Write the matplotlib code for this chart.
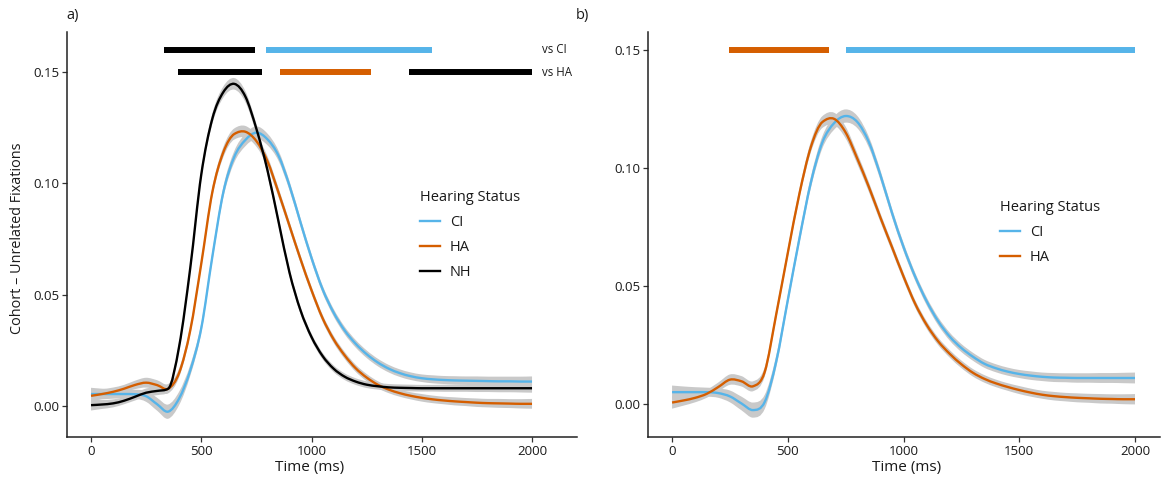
import matplotlib
matplotlib.use("Agg")
import matplotlib.pyplot as plt
from matplotlib.path import Path
from matplotlib.patches import PathPatch
from matplotlib.lines import Line2D
import numpy as np

# ---------------- data ----------------
time_ms = [0, 50, 100, 150, 200, 250, 300, 350, 400, 450,
           500, 550, 600, 650, 700, 750, 800, 850, 900, 950,
           1000, 1050, 1100, 1150, 1200, 1250, 1300, 1350, 1400, 1450,
           1500, 1550, 1600, 1650, 1700, 1750, 1800, 1850, 1900, 1950, 2000]

# panel a
a_ci = [0.0054, 0.0054, 0.0054, 0.0054, 0.0053, 0.0044, 0.0008, -0.0025, 0.0035, 0.0160,
        0.0350, 0.0670, 0.0960, 0.1120, 0.1195, 0.1228, 0.1198, 0.1125, 0.0990, 0.0825,
        0.0665, 0.0525, 0.0420, 0.0340, 0.0280, 0.0233, 0.0196, 0.0168, 0.0148, 0.0134,
        0.0125, 0.0120, 0.0117, 0.0115, 0.0114, 0.0113, 0.0112, 0.0111, 0.0111, 0.0110, 0.0110]
a_ha = [0.0046, 0.0054, 0.0064, 0.0078, 0.0095, 0.0105, 0.0094, 0.0078, 0.0150, 0.0340,
        0.0640, 0.0960, 0.1140, 0.1222, 0.1232, 0.1190, 0.1100, 0.0960, 0.0810, 0.0660,
        0.0520, 0.0395, 0.0300, 0.0228, 0.0170, 0.0128, 0.0096, 0.0074, 0.0058, 0.0046,
        0.0037, 0.0030, 0.0025, 0.0021, 0.0018, 0.0015, 0.0013, 0.0012, 0.0011, 0.0010, 0.0010]
a_nh = [0.0004, 0.0007, 0.0012, 0.0024, 0.0042, 0.0060, 0.0068, 0.0078, 0.0270, 0.0620,
        0.1040, 0.1290, 0.1410, 0.1447, 0.1390, 0.1245, 0.1060, 0.0830, 0.0600, 0.0430,
        0.0310, 0.0225, 0.0168, 0.0132, 0.0110, 0.0096, 0.0089, 0.0084, 0.0082, 0.0081,
        0.0080, 0.0080, 0.0080, 0.0080, 0.0080, 0.0080, 0.0080, 0.0080, 0.0080, 0.0080, 0.0080]
a_ci_se = [0.0028, 0.0024, 0.0021, 0.0019, 0.0020, 0.0025, 0.0029, 0.0032, 0.0030, 0.0025,
           0.0022, 0.0022, 0.0024, 0.0026, 0.0028, 0.0028, 0.0026, 0.0023, 0.0021, 0.0019,
           0.0018, 0.0017, 0.0017, 0.0017, 0.0017, 0.0017, 0.0017, 0.0017, 0.0017, 0.0017,
           0.0017, 0.0018, 0.0018, 0.0019, 0.0019, 0.0020, 0.0020, 0.0021, 0.0021, 0.0022, 0.0023]
a_ha_se = [0.0026, 0.0022, 0.0019, 0.0017, 0.0019, 0.0022, 0.0022, 0.0021, 0.0020, 0.0020,
           0.0020, 0.0021, 0.0023, 0.0025, 0.0026, 0.0025, 0.0023, 0.0021, 0.0019, 0.0018,
           0.0017, 0.0016, 0.0016, 0.0016, 0.0016, 0.0016, 0.0016, 0.0016, 0.0016, 0.0016,
           0.0017, 0.0017, 0.0017, 0.0018, 0.0018, 0.0019, 0.0019, 0.0020, 0.0020, 0.0021, 0.0022]
a_nh_se = [0.0024, 0.0020, 0.0018, 0.0016, 0.0017, 0.0019, 0.0019, 0.0018, 0.0018, 0.0019,
           0.0021, 0.0023, 0.0025, 0.0026, 0.0025, 0.0023, 0.0021, 0.0019, 0.0017, 0.0016,
           0.0015, 0.0015, 0.0015, 0.0015, 0.0015, 0.0015, 0.0015, 0.0015, 0.0015, 0.0015,
           0.0015, 0.0015, 0.0016, 0.0016, 0.0016, 0.0017, 0.0017, 0.0018, 0.0018, 0.0019, 0.0020]

# panel b
b_ci = [0.0050, 0.0050, 0.0050, 0.0050, 0.0046, 0.0032, 0.0002, -0.0026, 0.0008, 0.0180,
        0.0440, 0.0700, 0.0940, 0.1110, 0.1190, 0.1220, 0.1195, 0.1110, 0.0970, 0.0810,
        0.0665, 0.0540, 0.0435, 0.0350, 0.0285, 0.0237, 0.0200, 0.0170, 0.0151, 0.0137,
        0.0127, 0.0120, 0.0115, 0.0112, 0.0111, 0.0110, 0.0110, 0.0110, 0.0110, 0.0110, 0.0110]
b_ha = [0.0006, 0.0015, 0.0026, 0.0043, 0.0072, 0.0103, 0.0096, 0.0075, 0.0135, 0.0380,
        0.0640, 0.0890, 0.1090, 0.1195, 0.1208, 0.1150, 0.1040, 0.0920, 0.0790, 0.0665,
        0.0540, 0.0425, 0.0335, 0.0265, 0.0212, 0.0168, 0.0132, 0.0106, 0.0087, 0.0072,
        0.0059, 0.0048, 0.0039, 0.0033, 0.0029, 0.0026, 0.0024, 0.0022, 0.0021, 0.0020, 0.0020]
b_ci_se = a_ci_se
b_ha_se = a_ha_se

# significance bars (ms)
a_row_labels = ["vs CI", "vs HA"]
a_row_y = [0.160, 0.150]
a_vsci_start = [330, 795]
a_vsci_end = [745, 1545]
a_vsci_group = ["NH", "CI"]
a_vsha_start = [393, 858, 1443]
a_vsha_end = [775, 1270, 2000]
a_vsha_group = ["NH", "HA", "NH"]
b_bar_y = 0.150
b_bar_start = [248, 750]
b_bar_end = [678, 2000]
b_bar_group = ["HA", "CI"]

x_ticks = [0, 500, 1000, 1500, 2000]
y_ticks = [0.00, 0.05, 0.10, 0.15]
y_tick_labels = ["0.00", "0.05", "0.10", "0.15"]

colors = {"CI": "#56B4E9", "HA": "#D55E00", "NH": "#000000"}
ribbon_col = "#c9c9c9"

# ---------------- figure ----------------
plt.rcParams['font.family'] = ['Open Sans', 'DejaVu Sans']
W, H = 1168, 483
fig = plt.figure(figsize=(W / 100, H / 100), dpi=100)


def axes_px(l, t, r, b):
    return fig.add_axes([l / W, 1 - b / H, (r - l) / W, (b - t) / H])


axA = axes_px(67, 32, 577, 437)
axB = axes_px(648, 32, 1160, 437)


def style(ax, xlim, ylim):
    ax.set_xlim(xlim)
    ax.set_ylim(ylim)
    for s in ['top', 'right']:
        ax.spines[s].set_visible(False)
    for s in ['left', 'bottom']:
        ax.spines[s].set_linewidth(1.1)
        ax.spines[s].set_color('#222222')
    ax.tick_params(direction='out', length=3.5, width=0.9, colors='#333333',
                   labelsize=9.5, labelcolor='#1a1a1a', pad=2)
    ax.set_xticks(x_ticks)
    ax.set_xticklabels([str(v) for v in x_ticks])
    ax.set_yticks(y_ticks)
    ax.set_yticklabels(y_tick_labels)


def smooth_slopes(x, y):
    h = np.diff(x)
    d = np.diff(y) / h
    m = np.empty_like(y)
    m[1:-1] = (y[2:] - y[:-2]) / (x[2:] - x[:-2])
    m[0] = d[0]
    m[-1] = d[-1]
    for k in range(1, len(y) - 1):
        if d[k - 1] * d[k] > 0:
            lim = 3 * min(abs(d[k - 1]), abs(d[k]))
            if abs(m[k]) > lim:
                m[k] = np.sign(m[k]) * lim
        elif d[k - 1] == 0 or d[k] == 0:
            m[k] = 0.0
    return m


def bezier_path(x, y):
    """Smooth curve through the data points (cubic Bezier segments)."""
    x = np.asarray(x, float)
    y = np.asarray(y, float)
    m = smooth_slopes(x, y)
    verts = [(x[0], y[0])]
    codes = [Path.MOVETO]
    for i in range(len(x) - 1):
        h = x[i + 1] - x[i]
        verts += [(x[i] + h / 3, y[i] + m[i] * h / 3),
                  (x[i + 1] - h / 3, y[i + 1] - m[i + 1] * h / 3),
                  (x[i + 1], y[i + 1])]
        codes += [Path.CURVE4] * 3
    return verts, codes


t = np.array(time_ms, float)


def draw_curves(ax, series):
    for name, y, se in series:
        y = np.array(y)
        se = np.array(se)
        v1, c1 = bezier_path(t, y + se)
        v2, c2 = bezier_path(t[::-1], (y - se)[::-1])
        c2[0] = Path.LINETO
        verts = v1 + v2 + [v1[0]]
        codes = c1 + c2 + [Path.CLOSEPOLY]
        ax.add_patch(PathPatch(Path(verts, codes), facecolor=ribbon_col,
                               edgecolor='none', lw=0, zorder=1))
    handles = []
    for name, y, se in series:
        v, c = bezier_path(t, y)
        ax.add_patch(PathPatch(Path(v, c), facecolor='none', edgecolor=colors[name],
                               lw=1.7, zorder=3, capstyle='butt', joinstyle='round'))
        handles.append(Line2D([], [], color=colors[name], lw=1.7, label=name))
    return handles


hA = draw_curves(axA, [("CI", a_ci, a_ci_se), ("HA", a_ha, a_ha_se), ("NH", a_nh, a_nh_se)])
hB = draw_curves(axB, [("CI", b_ci, b_ci_se), ("HA", b_ha, b_ha_se)])

bar_lw = 4.3
for s, e, g in zip(a_vsci_start, a_vsci_end, a_vsci_group):
    axA.plot([s, e], [a_row_y[0], a_row_y[0]], color=colors[g], lw=bar_lw,
             solid_capstyle='butt', zorder=4)
for s, e, g in zip(a_vsha_start, a_vsha_end, a_vsha_group):
    axA.plot([s, e], [a_row_y[1], a_row_y[1]], color=colors[g], lw=bar_lw,
             solid_capstyle='butt', zorder=4)
for lab, yv in zip(a_row_labels, a_row_y):
    axA.text(2045, yv, lab, fontsize=8.3, ha='left', va='center', color='#1a1a1a')
for s, e, g in zip(b_bar_start, b_bar_end, b_bar_group):
    axB.plot([s, e], [b_bar_y, b_bar_y], color=colors[g], lw=bar_lw,
             solid_capstyle='butt', zorder=4)

style(axA, (-109, 2204), (-0.0139, 0.168))
style(axB, (-104, 2108), (-0.0140, 0.1576))

# legends
for ax, handles, (lx, ly) in [(axA, hA, (420, 190)), (axB, hB, (1000, 200))]:
    leg = ax.legend(handles=handles, labels=[h.get_label() for h in handles],
                    title='Hearing Status', loc='upper left',
                    bbox_to_anchor=(lx / W, 1 - ly / H), bbox_transform=fig.transFigure,
                    frameon=False, fontsize=10.5, title_fontsize=10.5,
                    handlelength=1.35, handletextpad=0.7, labelspacing=0.68,
                    borderpad=0, borderaxespad=0, alignment='left')
    leg.get_title().set_color('#1a1a1a')
    for txt in leg.get_texts():
        txt.set_color('#1a1a1a')

# axis titles and tags
fig.text(18 / W, 1 - 238 / H, "Cohort – Unrelated Fixations", rotation=90,
         ha='center', va='center', fontsize=10.4, color='#1a1a1a')
fig.text(310 / W, 1 - 467 / H, "Time (ms)", ha='center', va='center', fontsize=11, color='#1a1a1a')
fig.text(907 / W, 1 - 467 / H, "Time (ms)", ha='center', va='center', fontsize=11, color='#1a1a1a')
fig.text(66 / W, 1 - 16 / H, "a)", ha='left', va='center', fontsize=10.5, color='#1a1a1a')
fig.text(576 / W, 1 - 16 / H, "b)", ha='left', va='center', fontsize=10.5, color='#1a1a1a')

fig.savefig("out.png", dpi=100)
